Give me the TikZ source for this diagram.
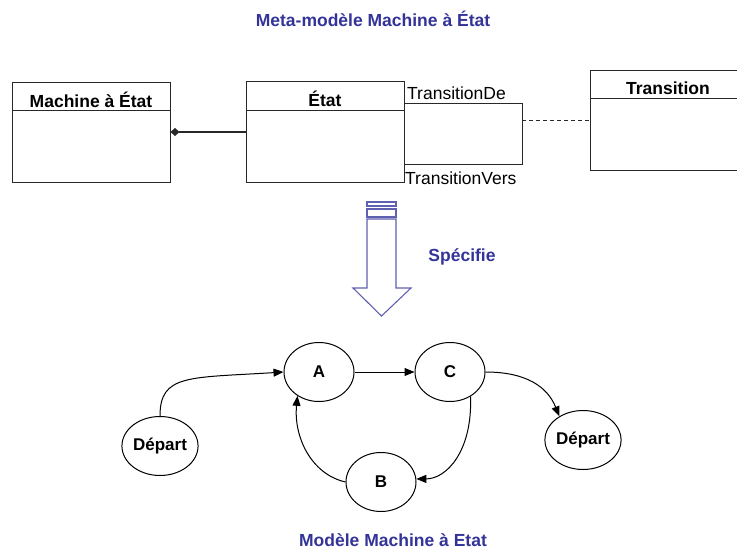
\documentclass[tikz,border=0pt]{standalone}
\usepackage{fontspec}
\setmainfont{Liberation Sans}
\usetikzlibrary{arrows.meta,shapes.geometric}
\definecolor{titleblue}{RGB}{51,51,153}
\definecolor{arrowblue}{RGB}{96,96,176}
\definecolor{lineg}{RGB}{40,40,40}
\begin{document}
\begin{tikzpicture}[x=1pt,y=-1pt,
  every node/.style={font=\fontsize{17.5}{19}\selectfont},
  umlbox/.style={draw=lineg,line width=1pt,rectangle,inner sep=0pt},
  hdr/.style={font=\fontsize{17.5}{19}\selectfont\bfseries,inner sep=0pt},
  role/.style={font=\fontsize{17.5}{19}\selectfont,inner sep=0pt,anchor=west},
  ttl/.style={font=\fontsize{17.5}{19}\selectfont\bfseries,text=titleblue,inner sep=0pt},
  st/.style={draw=black,ellipse,line width=1pt,minimum width=70pt,minimum height=59pt,inner sep=0pt,font=\fontsize{17}{19}\selectfont\bfseries},
  conn/.style={draw=black,line width=1pt},
  arr/.style={conn,-{Triangle[length=10pt,width=8pt]}}]
\useasboundingbox (0,0) rectangle (737,551);
% titles
\node[ttl] (t1) at (373,19) {Meta-modèle Machine à État};
\node[ttl] (t2) at (462,257) {Spécifie};
\node[ttl] (t3) at (393,540) {Modèle Machine à Etat};
% UML boxes
\node[umlbox,minimum width=158pt,minimum height=99pt] (mae) at (91,132.5) {};
\draw[lineg,line width=1pt] (12,111) -- (170,111);
\node[hdr] (maeh) at (91,100) {Machine à État};
\node[umlbox,minimum width=158pt,minimum height=100pt] (etat) at (325,132) {};
\draw[lineg,line width=1pt] (246,111) -- (404,111);
\node[hdr] (etath) at (325,99) {État};
\node[umlbox,minimum width=160pt,minimum height=99pt] (trans) at (670,120.5) {};
\draw[lineg,line width=1pt] (590,99) -- (750,99);
\node[hdr] (transh) at (668,88) {Transition};
% composition
\draw[lineg,line width=1.2pt,{Diamond[length=9pt,width=8pt]}-] (mae.east |- 0,132) -- (etat.west |- 0,132);
% self association
\coordinate (a1) at (404,104);
\coordinate (a2) at (522,104);
\coordinate (a3) at (522,164);
\coordinate (a4) at (404,164);
\coordinate (am) at (522,121);
\draw[lineg,line width=1pt] (a1) -- (a2) -- (a3) -- (a4);
\draw[lineg,line width=1pt,dash pattern=on 4pt off 3pt] (am) -- (trans.west |- am);
\node[role] (rde) at (407,93) {TransitionDe};
\node[role] (rvers) at (405,178) {TransitionVers};
% big arrow
\draw[arrowblue,line width=1.1pt,fill=white] (367,202) rectangle (396,206);
\draw[arrowblue,line width=1.1pt,fill=white] (367,209) rectangle (396,217);
\draw[arrowblue,line width=1.1pt,fill=white,line join=miter] (367,219) -- (396,219) -- (396,288) -- (411,288) -- (381.5,316) -- (353,288) -- (367,288) -- cycle;
% state machine
\node[st] (A) at (319,372) {A};
\node[st] (C) at (450,372) {C};
\node[st] (B) at (381,482) {B};
\node[st] (d1) at (160,446) {Départ};
\node[st] (d2) at (583,440) {Départ};
\draw[arr] (d1.north) .. controls +(0,-42) and +(-95,6) .. (A.west);
\draw[arr] (A.east) -- (C.west);
\draw[arr] (C.east) .. controls +(40,0) and +(-12,-30) .. (d2.135);
\draw[arr] (C.-50) .. controls +(2,55) and +(30,0) .. (B.5);
\draw[arr] (B.west) .. controls +(-35,-8) and +(-4,40) .. (A.-132);
\end{tikzpicture}
\end{document}
